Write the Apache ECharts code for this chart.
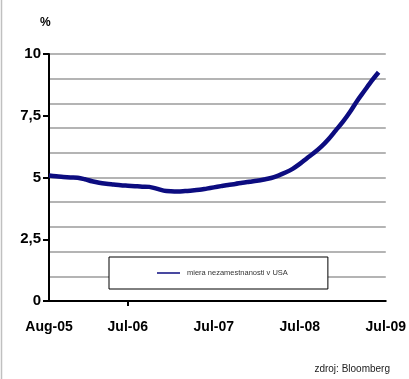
<!DOCTYPE html>
<html>
<head>
<meta charset="utf-8">
<script src="https://cdn.jsdelivr.net/npm/echarts@6/dist/echarts.min.js"></script>
<style>
  html, body { margin: 0; padding: 0; background: #fff; }
  #chart { width: 409px; height: 379px; }
</style>
</head>
<body>
<div id="chart"></div>
<script>
// Monthly categories, Aug-05 .. Jul-09
const months = [
  'Aug-05','Sep-05','Oct-05','Nov-05','Dec-05',
  'Jan-06','Feb-06','Mar-06','Apr-06','May-06','Jun-06','Jul-06','Aug-06','Sep-06','Oct-06','Nov-06','Dec-06',
  'Jan-07','Feb-07','Mar-07','Apr-07','May-07','Jun-07','Jul-07','Aug-07','Sep-07','Oct-07','Nov-07','Dec-07',
  'Jan-08','Feb-08','Mar-08','Apr-08','May-08','Jun-08','Jul-08','Aug-08','Sep-08','Oct-08','Nov-08','Dec-08',
  'Jan-09','Feb-09','Mar-09','Apr-09','May-09','Jun-09','Jul-09'
];

// Unemployment rate in the USA (%)
const unemployment = [
  5.08, 5.05, 5.02, 5.00, 4.99,
  4.93, 4.85, 4.79, 4.75, 4.72, 4.69, 4.67, 4.65, 4.63, 4.62, 4.55, 4.47,
  4.44, 4.43, 4.45, 4.47, 4.50, 4.55, 4.60, 4.65, 4.70, 4.74, 4.79, 4.83,
  4.87, 4.92, 4.98, 5.08, 5.20, 5.35, 5.55, 5.78, 6.00, 6.25, 6.55, 6.90,
  7.25, 7.65, 8.10, 8.50, 8.90, 9.26, null
];

// Months that carry an axis label
const labelledMonths = ['Aug-05', 'Jul-06', 'Jul-07', 'Jul-08', 'Jul-09'];

const seriesName = 'miera nezamestnanosti v USA';
const sourceText = 'zdroj: Bloomberg';
const unitText = '%';

const axisFont = '"Liberation Sans", Arial, sans-serif';

const chart = echarts.init(document.getElementById('chart'));
chart.setOption({
  animation: false,
  backgroundColor: '#fff',
  grid: { left: 49, right: 18, top: 54, bottom: 78, containLabel: false },
  xAxis: {
    type: 'category',
    data: months,
    boundaryGap: false,
    axisLine: { show: true, lineStyle: { color: '#000', width: 2 } },
    axisTick: {
      show: true,
      length: 5,
      interval: (idx, val) => val === 'Jul-06',
      lineStyle: { color: '#000', width: 2 }
    },
    axisLabel: {
      interval: (idx, val) => labelledMonths.includes(val),
      margin: 19,
      color: '#000',
      fontFamily: axisFont,
      fontWeight: 'bold',
      fontSize: 14
    },
    splitLine: { show: false }
  },
  yAxis: [
    {
      type: 'value',
      min: 0, max: 10, interval: 2.5,
      axisLine: { show: true, lineStyle: { color: '#000', width: 2 } },
      axisTick: { show: true, length: 6, lineStyle: { color: '#000', width: 2 } },
      axisLabel: {
        margin: 8,
        color: '#000',
        fontFamily: axisFont,
        fontWeight: 'bold',
        fontSize: 15,
        formatter: v => String(v).replace('.', ',')
      },
      splitLine: { show: false }
    },
    {
      // carries the gridlines at every whole percent
      type: 'value',
      position: 'left',
      min: 0, max: 10, interval: 1,
      axisLine: { show: false },
      axisTick: { show: false },
      axisLabel: { show: false },
      splitLine: { show: true, lineStyle: { color: '#b4b4b4', width: 2 } }
    }
  ],
  legend: {
    left: 109,
    top: 257,
    data: [seriesName],
    icon: 'rect',
    itemWidth: 23,
    itemHeight: 1.5,
    itemGap: 0,
    padding: [12, 40, 12, 48],
    backgroundColor: '#fff',
    borderColor: '#000',
    borderWidth: 1,
    borderRadius: 0,
    textStyle: {
      color: '#333',
      fontFamily: 'Arial, "Liberation Sans", sans-serif',
      fontSize: 7.5,
      padding: [0, 0, 0, 2]
    }
  },
  series: [{
    name: seriesName,
    type: 'line',
    yAxisIndex: 0,
    data: unemployment,
    smooth: 0.3,
    showSymbol: false,
    symbol: 'none',
    lineStyle: { color: '#0c0c80', width: 4.5 },
    itemStyle: { color: '#0c0c80' }
  }],
  graphic: [
    {
      type: 'line',
      shape: { x1: 1.5, y1: 0, x2: 1.5, y2: 379 },
      style: { stroke: '#c0c0c0', lineWidth: 1.5 }
    },
    {
      type: 'text',
      left: 40,
      top: 17,
      style: {
        text: unitText,
        fill: '#000',
        font: 'bold 12px ' + axisFont
      }
    },
    {
      type: 'text',
      right: 19,
      top: 364,
      style: {
        text: sourceText,
        fill: '#222',
        font: '10px Arial, "Liberation Sans", sans-serif'
      }
    }
  ]
});
</script>
</body>
</html>
